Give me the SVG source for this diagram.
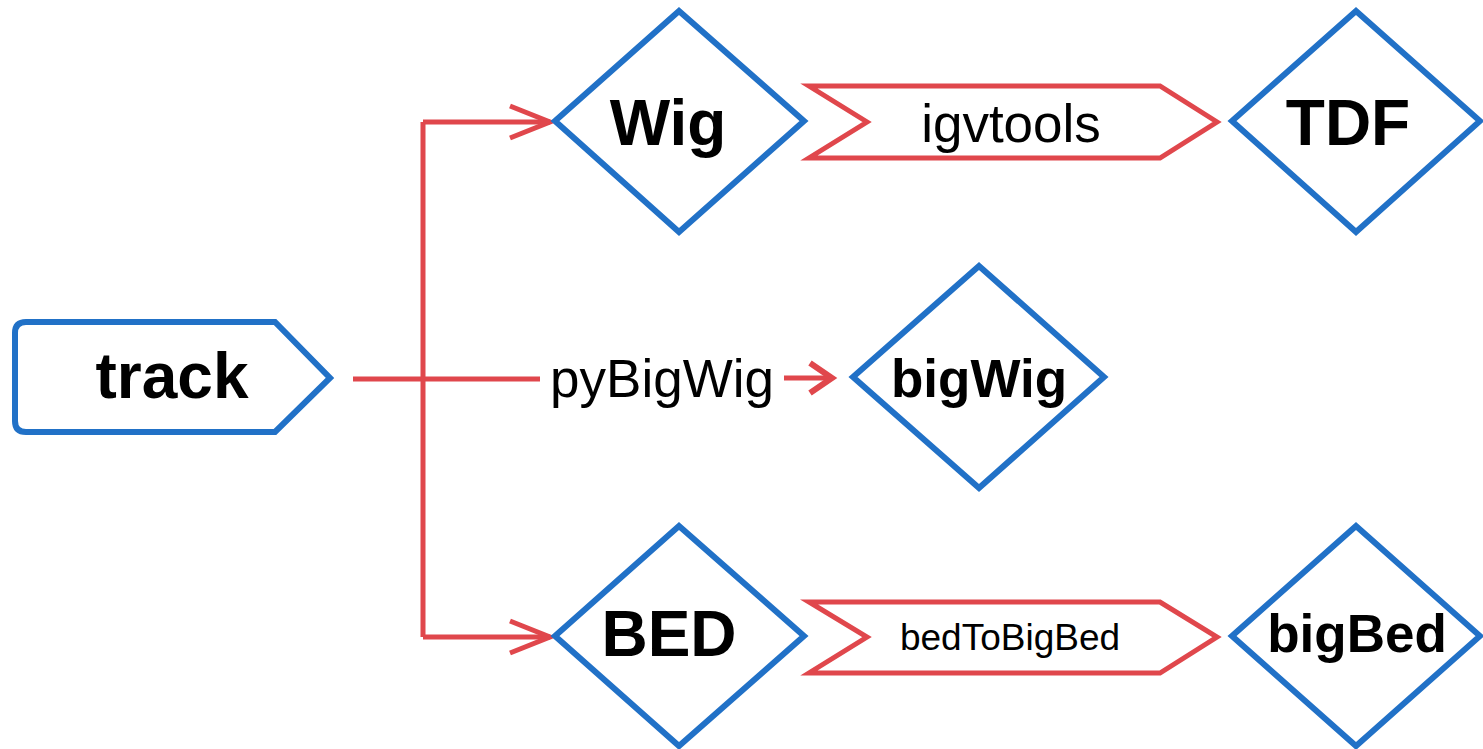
<svg xmlns="http://www.w3.org/2000/svg" width="1483" height="749" viewBox="0 0 1483 749">
<style>
.node{fill:#fff;stroke:#2171c7;stroke-width:6;stroke-linejoin:miter}
.proc{fill:#fff;stroke:#e0474c;stroke-width:5}
.conn{fill:none;stroke:#e0474c;stroke-width:5}
.big{font-family:"Liberation Sans",Arial,sans-serif;font-weight:bold;font-size:64px;fill:#000;text-anchor:middle}
.mid{font-family:"Liberation Sans",Arial,sans-serif;font-weight:bold;font-size:53px;fill:#000;text-anchor:middle}
.lbl{font-family:"Liberation Sans",Arial,sans-serif;font-size:53px;fill:#000;text-anchor:middle}
</style>
<rect width="1483" height="749" fill="#fff"/>
<g id="connectors">
<path class="conn" d="M353,379 H540"/>
<path class="conn" d="M423,122 V637"/>
<path class="conn" d="M423,122 H550"/>
<path class="conn" d="M510,106 L550,122 L510,138"/>
<path class="conn" d="M423,637 H550"/>
<path class="conn" d="M510,621 L550,637 L510,653"/>
<path class="conn" d="M784,378 H832"/>
<path class="conn" style="stroke-width:6" d="M810,363 L832,378 L810,393"/>
<text class="lbl" x="662" y="397">pyBigWig</text>
</g>
<g id="track">
<path class="node" d="M26,322 H275 L330,378 L275,432 H26 Q15,432 15,421 V333 Q15,322 26,322 Z" stroke-linejoin="round"/>
<text class="big" x="172" y="398">track</text>
</g>
<g id="wig">
<polygon class="node" points="679,11 804,121 679,232 555,121"/>
<text class="big" x="668" y="145">Wig</text>
</g>
<g id="igvtools">
<polygon class="proc" points="809,86 1160,86 1217,122 1160,158 809,158 867,122"/>
<text class="lbl" x="1011" y="142">igvtools</text>
</g>
<g id="tdf">
<polygon class="node" points="1356,11 1480,121 1356,232 1232,121"/>
<text class="big" x="1348" y="145">TDF</text>
</g>
<g id="bigwig">
<polygon class="node" points="979,266 1104,377 979,488 853,377"/>
<text class="mid" x="979" y="397">bigWig</text>
</g>
<g id="bed">
<polygon class="node" points="679,526 804,636 679,746 555,636"/>
<text class="big" x="669" y="656">BED</text>
</g>
<g id="bedtobigbed">
<polygon class="proc" points="809,602 1160,602 1217,637 1160,673 809,673 867,637"/>
<text class="lbl" x="1010" y="650" style="font-size:37px">bedToBigBed</text>
</g>
<g id="bigbed">
<polygon class="node" points="1356,526 1480,636 1356,746 1232,636"/>
<text class="mid" x="1357" y="652">bigBed</text>
</g>
</svg>
